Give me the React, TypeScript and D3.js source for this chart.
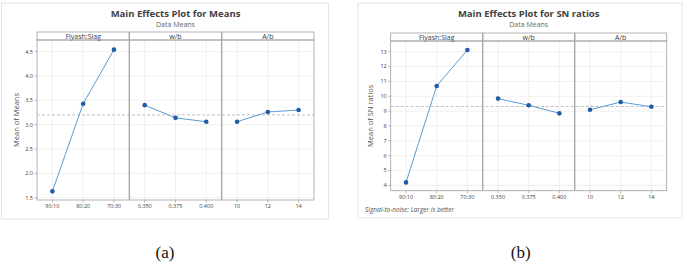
import React from 'react';
import * as d3 from 'd3';

// factors and their levels
const factorNames = ['Flyash:Slag', 'w/b', 'A/b'];
const levelsFly = ['90:10', '80:20', '70:30'];
const levelsWb = ['0.350', '0.375', '0.400'];
const levelsAb = ['10', '12', '14'];

// (a) mean of means
const meansFly = [1.63, 3.43, 4.54];
const meansWb = [3.40, 3.14, 3.06];
const meansAb = [3.06, 3.26, 3.30];
const meansGrand = 3.20;
const meansTicks = [1.5, 2.0, 2.5, 3.0, 3.5, 4.0, 4.5];

// (b) mean of SN ratios
const snFly = [4.20, 10.69, 13.11];
const snWb = [9.84, 9.39, 8.85];
const snAb = [9.09, 9.61, 9.29];
const snGrand = 9.31;
const snTicks = [4, 5, 6, 7, 8, 9, 10, 11, 12, 13];

const FONT = '"Open Sans", "Noto Sans", sans-serif';

type ChartProps = {
  left: number; top: number; width: number; height: number;
  plotL: number; plotR: number; stripTop: number; stripBot: number; plotBot: number;
  title: string; yLabel: string; series: number[][]; grand: number;
  ticks: number[]; yDomain: [number, number]; tickFmt: (v: number) => string;
  note?: string;
};

const levels = [levelsFly, levelsWb, levelsAb];

const MainEffects = (p: ChartProps) => {
  const y = d3.scaleLinear().domain(p.yDomain).range([p.plotBot, p.stripBot]);
  const panelW = (p.plotR - p.plotL) / 3;
  const lineGen = d3.line<[number, number]>().x(d => d[0]).y(d => d[1]);
  const cx = (p.plotL + p.plotR) / 2;

  return (
    <g>
      <rect x={p.left} y={p.top} width={p.width} height={p.height} fill="#fff" stroke="#e4e4e4" />
      <text x={cx} y={p.top + 14} textAnchor="middle" fontFamily={FONT} fontSize={9.5}
        fontWeight="bold" fill="#404040">{p.title}</text>
      <text x={cx} y={p.top + 24} textAnchor="middle" fontFamily={FONT} fontSize={7}
        fill="#666">Data Means</text>
      <text transform={`translate(${p.plotL - 18},${(p.stripBot + p.plotBot) / 2}) rotate(-90)`}
        textAnchor="middle" fontFamily={FONT} fontSize={7.5} fill="#505050">{p.yLabel}</text>

      {/* horizontal grid */}
      {p.ticks.map(t => (
        <g key={t}>
          <line x1={p.plotL} x2={p.plotR} y1={y(t)} y2={y(t)} stroke="#ececec" strokeWidth={0.8} />
          <line x1={p.plotL - 2.5} x2={p.plotL} y1={y(t)} y2={y(t)} stroke="#888" strokeWidth={0.6} />
          <text x={p.plotL - 4} y={y(t)} dy="0.35em" textAnchor="end" fontFamily={FONT}
            fontSize={5.5} fill="#404040">{p.tickFmt(t)}</text>
        </g>
      ))}

      {p.series.map((vals, i) => {
        const x0 = p.plotL + i * panelW;
        const x = d3.scalePoint<string>().domain(levels[i]).range([x0, x0 + panelW]).padding(0.5);
        const pts: [number, number][] = vals.map((v, j) => [x(levels[i][j]) as number, y(v)]);
        return (
          <g key={i}>
            {levels[i].map(l => (
              <g key={l}>
                <line x1={x(l)} x2={x(l)} y1={p.stripBot} y2={p.plotBot} stroke="#ececec" strokeWidth={0.8} />
                <line x1={x(l)} x2={x(l)} y1={p.plotBot} y2={p.plotBot + 2.5} stroke="#888" strokeWidth={0.6} />
                <text x={x(l)} y={p.plotBot + 8} textAnchor="middle" fontFamily={FONT}
                  fontSize={5.5} fill="#404040">{l}</text>
              </g>
            ))}
            <rect x={x0} y={p.stripTop} width={panelW} height={p.stripBot - p.stripTop}
              fill="#fff" stroke="#a0a0a0" strokeWidth={0.8} />
            <text x={x0 + panelW / 2} y={p.stripBot - 1.5} textAnchor="middle" fontFamily={FONT}
              fontSize={7} fill="#404040">{factorNames[i]}</text>
          </g>
        );
      })}

      <line x1={p.plotL} x2={p.plotR} y1={y(p.grand)} y2={y(p.grand)} stroke="#b0b0b0"
        strokeWidth={0.8} strokeDasharray="3,2" />

      {p.series.map((vals, i) => {
        const x0 = p.plotL + i * panelW;
        const x = d3.scalePoint<string>().domain(levels[i]).range([x0, x0 + panelW]).padding(0.5);
        const pts: [number, number][] = vals.map((v, j) => [x(levels[i][j]) as number, y(v)]);
        return (
          <g key={'s' + i}>
            <path d={lineGen(pts) || ''} fill="none" stroke="#5b9bd5" strokeWidth={1} />
            {pts.map((q, j) => <circle key={j} cx={q[0]} cy={q[1]} r={2.3} fill="#1f5ca8" />)}
          </g>
        );
      })}

      {/* panel frame and dividers */}
      <rect x={p.plotL} y={p.stripBot} width={p.plotR - p.plotL} height={p.plotBot - p.stripBot}
        fill="none" stroke="#a0a0a0" strokeWidth={0.8} />
      {[1, 2].map(k => (
        <line key={k} x1={p.plotL + k * panelW} x2={p.plotL + k * panelW} y1={p.stripTop}
          y2={p.plotBot} stroke="#a8a8a8" strokeWidth={1.4} />
      ))}
      {p.note && (
        <text x={p.left + 7} y={p.plotBot + 21} fontFamily={FONT} fontSize={6.5}
          fontStyle="italic" fill="#505050">{p.note}</text>
      )}
    </g>
  );
};

export default function App() {
  return (
    <svg width={685} height={263} style={{ position: 'absolute', left: 0, top: 0 }}>
      <rect width={685} height={263} fill="#fff" />
      <MainEffects left={1.5} top={3} width={327} height={216}
        plotL={37} plotR={314} stripTop={32} stripBot={40} plotBot={200}
        title="Main Effects Plot for Means" yLabel="Mean of Means"
        series={[meansFly, meansWb, meansAb]} grand={meansGrand}
        ticks={meansTicks} yDomain={[1.5 - 2.3 / 48.7, 1.5 + 157.7 / 48.7]}
        tickFmt={d3.format('.1f')} />
      <MainEffects left={358} top={3} width={324} height={215}
        plotL={390.7} plotR={666.7} stripTop={33} stripBot={41} plotBot={190.7}
        title="Main Effects Plot for SN ratios" yLabel="Mean of SN ratios"
        series={[snFly, snWb, snAb]} grand={snGrand}
        ticks={snTicks} yDomain={[3.64, 13.72]}
        tickFmt={d3.format('d')} note="Signal-to-noise: Larger is better" />
      <text x={165} y={258} textAnchor="middle" fontFamily="'Liberation Serif', serif" fontSize={17}
        fill="#111">(a)</text>
      <text x={520.7} y={258} textAnchor="middle" fontFamily="'Liberation Serif', serif" fontSize={17}
        fill="#111">(b)</text>
    </svg>
  );
}
